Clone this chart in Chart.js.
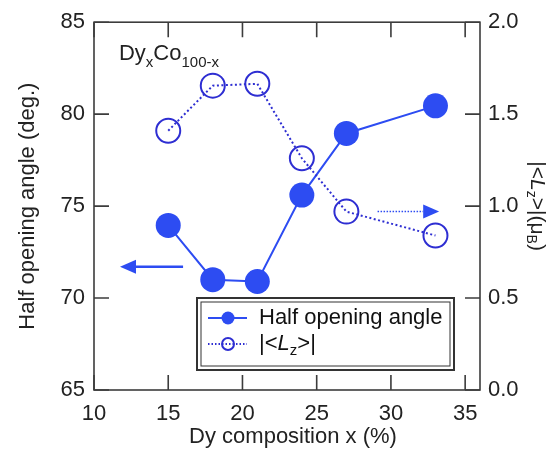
<!DOCTYPE html>
<html>
<head>
<meta charset="utf-8">
<script src="https://cdn.jsdelivr.net/npm/chart.js@4/dist/chart.umd.min.js"></script>
<style>
	html, body { margin: 0; padding: 0; background: #fff; }
	canvas { display: block; }
</style>
</head>
<body>
<canvas id="chart" width="555" height="451"></canvas>
<script>
// Dy composition x (%)
const composition = [15, 18, 21, 24, 27, 33];
// half opening angle (deg.), left axis
const halfAngle = [73.95, 71.0, 70.9, 75.6, 78.95, 80.45];
// |<Lz>| (uB), right axis
const lzValues = [1.41, 1.655, 1.665, 1.26, 0.97, 0.84];

const xTicks = [10, 15, 20, 25, 30, 35];
const leftTicks = [65, 70, 75, 80, 85];
const rightTicks = [0, 0.5, 1.0, 1.5, 2.0];

// arrows pointing at the axis each series belongs to (data units)
const leftArrow = { fromX: 16.0, toX: 11.75, y: 71.7 };
const rightArrow = { fromX: 29.1, toX: 33.25, y: 0.97 };

const FONT = '"Liberation Sans", Arial, sans-serif';
const solidBlue = "#2d4cf2";
const ringBlue = "#2e2ed2";
const frameColor = "#3c3c3c";

const setTicks = (values) => (scale) => {
	scale.ticks = values.map((v) => ({ value: v }));
};

// draw a run of text pieces, some italic / subscript
const drawRich = (ctx, parts, x, y, size) => {
	const fontOf = (p) =>
		`${p.italic ? "italic " : ""}${p.sub ? Math.round(size * 0.68) : size}px ${FONT}`;
	let w = 0;
	parts.forEach((p) => {
		ctx.font = fontOf(p);
		w += ctx.measureText(p.t).width;
	});
	let cx = x - w / 2;
	parts.forEach((p) => {
		ctx.font = fontOf(p);
		ctx.fillText(p.t, cx, y + (p.sub ? size * 0.3 : 0));
		cx += ctx.measureText(p.t).width;
	});
};

const arrow = (ctx, x1, x2, y, dashed) => {
	const dir = Math.sign(x2 - x1);
	const headLen = 16;
	ctx.save();
	ctx.strokeStyle = solidBlue;
	ctx.fillStyle = solidBlue;
	ctx.lineWidth = dashed ? 1.5 : 2.5;
	ctx.setLineDash(dashed ? [1.5, 1.5] : []);
	ctx.beginPath();
	ctx.moveTo(x1, y);
	ctx.lineTo(x2 - dir * headLen, y);
	ctx.stroke();
	ctx.setLineDash([]);
	ctx.beginPath();
	ctx.moveTo(x2, y);
	ctx.lineTo(x2 - dir * headLen, y - 7);
	ctx.lineTo(x2 - dir * headLen, y + 7);
	ctx.closePath();
	ctx.fill();
	ctx.restore();
};

const decorations = {
	id: "decorations",
	afterDatasetsDraw(chart) {
		const { ctx, chartArea: a, scales } = chart;
		const xs = scales.x, yl = scales.y, yr = scales.y1;
		ctx.save();

		// frame + inward ticks on all four sides
		ctx.strokeStyle = frameColor;
		ctx.lineWidth = 1.6;
		ctx.strokeRect(a.left, a.top, a.right - a.left, a.bottom - a.top);
		const tl = 15;
		ctx.beginPath();
		xTicks.forEach((v) => {
			const px = xs.getPixelForValue(v);
			ctx.moveTo(px, a.bottom);
			ctx.lineTo(px, a.bottom - tl);
			ctx.moveTo(px, a.top);
			ctx.lineTo(px, a.top + tl);
		});
		leftTicks.forEach((v) => {
			const py = yl.getPixelForValue(v);
			ctx.moveTo(a.left, py);
			ctx.lineTo(a.left + tl, py);
		});
		rightTicks.forEach((v) => {
			const py = yr.getPixelForValue(v);
			ctx.moveTo(a.right, py);
			ctx.lineTo(a.right - tl, py);
		});
		ctx.stroke();

		// axis titles
		ctx.fillStyle = "#222";
		ctx.textBaseline = "middle";
		ctx.textAlign = "center";
		ctx.font = `22px ${FONT}`;
		ctx.fillText("Dy composition x (%)", 293, 437);

		ctx.save();
		ctx.translate(28, (a.top + a.bottom) / 2);
		ctx.rotate(-Math.PI / 2);
		ctx.fillText("Half opening angle (deg.)", 0, 0);
		ctx.restore();

		ctx.textAlign = "left";
		ctx.save();
		ctx.translate(537, (a.top + a.bottom) / 2);
		ctx.rotate(Math.PI / 2);
		drawRich(ctx, [
			{ t: "|<" },
			{ t: "L", italic: true },
			{ t: "z", sub: true },
			{ t: ">|(\u03bc" },
			{ t: "B", sub: true },
			{ t: ")" },
		], 0, 0, 21);
		ctx.restore();

		// sample label
		ctx.textBaseline = "alphabetic";
		drawRich(ctx, [
			{ t: "Dy" },
			{ t: "x", sub: true },
			{ t: "Co" },
			{ t: "100-x", sub: true },
		], a.left + 75, a.top + 38, 22);

		// arrows
		arrow(ctx, xs.getPixelForValue(leftArrow.fromX), xs.getPixelForValue(leftArrow.toX),
			yl.getPixelForValue(leftArrow.y), false);
		arrow(ctx, xs.getPixelForValue(rightArrow.fromX), xs.getPixelForValue(rightArrow.toX),
			yr.getPixelForValue(rightArrow.y), true);

		// legend box with double border
		const bx = 197, by = 298, bw = 257, bh = 72;
		ctx.fillStyle = "#fff";
		ctx.fillRect(bx, by, bw, bh);
		ctx.strokeStyle = "#333";
		ctx.lineWidth = 2;
		ctx.strokeRect(bx, by, bw, bh);
		ctx.lineWidth = 1;
		ctx.strokeRect(bx + 4, by + 4, bw - 8, bh - 8);

		const r1 = by + 20, r2 = by + 46;
		ctx.strokeStyle = solidBlue;
		ctx.lineWidth = 2;
		ctx.beginPath();
		ctx.moveTo(208, r1);
		ctx.lineTo(247, r1);
		ctx.stroke();
		ctx.fillStyle = solidBlue;
		ctx.beginPath();
		ctx.arc(228, r1, 6.5, 0, Math.PI * 2);
		ctx.fill();

		ctx.strokeStyle = ringBlue;
		ctx.setLineDash([1.5, 2]);
		ctx.beginPath();
		ctx.moveTo(208, r2);
		ctx.lineTo(247, r2);
		ctx.stroke();
		ctx.setLineDash([]);
		ctx.beginPath();
		ctx.arc(228, r2, 6, 0, Math.PI * 2);
		ctx.stroke();

		ctx.fillStyle = "#111";
		ctx.textBaseline = "middle";
		ctx.textAlign = "left";
		ctx.font = `22px ${FONT}`;
		ctx.fillText("Half opening angle", 259, r1);
		ctx.textAlign = "left";
		// second label: |<Lz>|
		const parts = [
			{ t: "|<" },
			{ t: "L", italic: true },
			{ t: "z", sub: true },
			{ t: ">|" },
		];
		let w = 0;
		parts.forEach((p) => {
			ctx.font = `${p.italic ? "italic " : ""}${p.sub ? 15 : 22}px ${FONT}`;
			w += ctx.measureText(p.t).width;
		});
		drawRich(ctx, parts, 259 + w / 2, r2, 22);

		ctx.restore();
	},
};

new Chart(document.getElementById("chart"), {
	type: "line",
	data: {
		datasets: [
			{
				label: "|<Lz>|",
				data: composition.map((x, i) => ({ x, y: lzValues[i] })),
				yAxisID: "y1",
				borderColor: ringBlue,
				borderWidth: 2,
				borderDash: [2, 2.5],
				pointRadius: 12,
				pointBorderWidth: 2,
				pointBackgroundColor: "rgba(0,0,0,0)",
				pointBorderColor: ringBlue,
				fill: false,
			},
			{
				label: "Half opening angle",
				data: composition.map((x, i) => ({ x, y: halfAngle[i] })),
				yAxisID: "y",
				borderColor: solidBlue,
				borderWidth: 2,
				pointRadius: 12.5,
				pointBorderWidth: 0,
				pointBackgroundColor: solidBlue,
				fill: false,
			},
		],
	},
	options: {
		responsive: false,
		animation: false,
		layout: { padding: { top: 22, right: 0, bottom: 0, left: 0 } },
		plugins: {
			legend: { display: false },
			tooltip: { enabled: false },
		},
		scales: {
			x: {
				type: "linear",
				min: 10,
				max: 36,
				afterBuildTicks: setTicks(xTicks),
				afterFit: (s) => { s.height = 61; },
				grid: { display: false, drawTicks: false },
				border: { display: false },
				ticks: {
					padding: 11,
					color: "#222",
					font: { family: FONT, size: 22 },
					maxRotation: 0,
				},
			},
			y: {
				position: "left",
				min: 65,
				max: 85,
				afterBuildTicks: setTicks(leftTicks),
				afterFit: (s) => { s.width = 94; },
				grid: { display: false, drawTicks: false },
				border: { display: false },
				ticks: {
					padding: 9,
					color: "#222",
					font: { family: FONT, size: 22 },
				},
			},
			y1: {
				position: "right",
				min: 0,
				max: 2,
				afterBuildTicks: setTicks(rightTicks),
				afterFit: (s) => { s.width = 75; },
				grid: { display: false, drawTicks: false },
				border: { display: false },
				ticks: {
					padding: 8,
					color: "#222",
					font: { family: FONT, size: 22 },
					callback: (v) => Number(v).toFixed(1),
				},
			},
		},
	},
	plugins: [decorations],
});
</script>
</body>
</html>
